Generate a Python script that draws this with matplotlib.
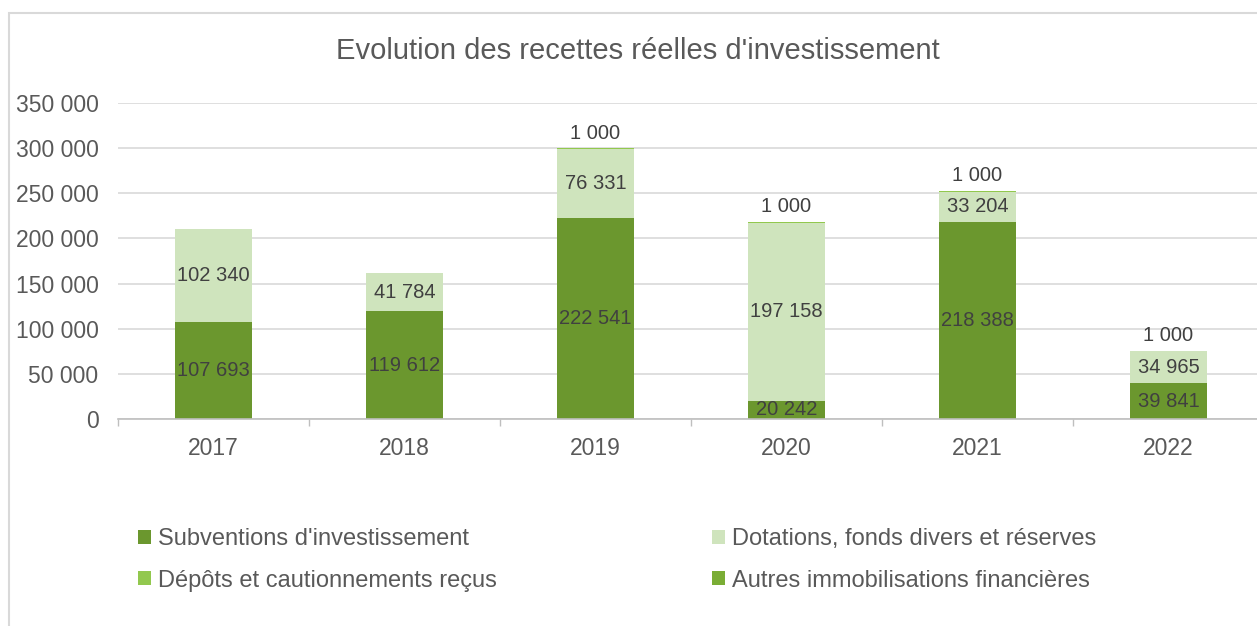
import matplotlib
matplotlib.use("Agg")
import matplotlib.pyplot as plt
import numpy as np
from matplotlib.patches import Rectangle, Patch

years = ["2017", "2018", "2019", "2020", "2021", "2022"]
subventions = [107693, 119612, 222541, 20242, 218388, 39841]
dotations = [102340, 41784, 76331, 197158, 33204, 34965]
depots = [0, 0, 1000, 1000, 1000, 1000]
autres = [0, 0, 0, 0, 0, 0]

names = ["Subventions d'investissement", "Dotations, fonds divers et réserves",
         "Dépôts et cautionnements reçus", "Autres immobilisations financières"]
colors = ["#6b972e", "#cfe4bd", "#92c84e", "#7aad35"]

plt.rcParams['font.family'] = ['Liberation Sans', 'DejaVu Sans']
txt = "#595959"
lab = "#404040"

def fmt(v):
    return f"{int(round(v)):,}".replace(",", " ")

fig = plt.figure(figsize=(12.57, 6.26), dpi=100)
fig.patches.append(Rectangle((9/1257, -0.1), 1.2, 1 - 13/626 + 0.1, transform=fig.transFigure,
                             fill=False, edgecolor="#d9d9d9", linewidth=1.5, zorder=0))

ax = fig.add_axes([118/1257, 1 - 419/626, 1146/1257, 316/626])
x = np.arange(len(years))
w = 0.40
series = [subventions, dotations, depots, autres]
bottom = np.zeros(len(years))
for s, c in zip(series, colors):
    ax.bar(x, s, w, bottom=bottom, color=c, zorder=3)
    bottom += np.array(s)

lfs = 14.5
for i in range(len(years)):
    v1 = subventions[i]
    ax.text(x[i], v1 / 2, fmt(v1), ha="center", va="center", fontsize=lfs, color=lab, zorder=4)
    v2 = dotations[i]
    ax.text(x[i], v1 + v2 / 2, fmt(v2), ha="center", va="center", fontsize=lfs, color=lab, zorder=4)
    if depots[i] > 0:
        top = v1 + v2 + depots[i]
        ax.annotate(fmt(depots[i]), (x[i], top), xytext=(0, 4), textcoords="offset points",
                    ha="center", va="bottom", fontsize=lfs, color=lab, zorder=4)

ax.set_xlim(-0.5, len(years) - 0.5)
ax.set_ylim(0, 350000)
yt = np.arange(0, 350001, 50000)
ax.set_yticks(yt)
ax.set_yticklabels([fmt(v) for v in yt])
ax.set_xticks(x)
ax.set_xticklabels(years)
ax.set_xticks(np.arange(-0.5, len(years), 1), minor=True)
ax.tick_params(axis="x", which="major", length=0, pad=13, labelsize=16.5, labelcolor=txt)
ax.tick_params(axis="x", which="minor", length=5, color="#bfbfbf", width=1)
ax.tick_params(axis="y", length=0, pad=14, labelsize=16.5, labelcolor=txt)
ax.grid(axis="y", color="#d9d9d9", linewidth=1.2, zorder=0)
ax.set_axisbelow(True)
for sp in ["top", "right", "left"]:
    ax.spines[sp].set_visible(False)
ax.spines["bottom"].set_color("#bfbfbf")
ax.spines["bottom"].set_linewidth(1.2)
ax.spines["bottom"].set_zorder(5)

fig.text(638/1257, 1 - 51/626, "Evolution des recettes réelles d'investissement",
         ha="center", va="center", fontsize=21, color=txt)

h = [Patch(facecolor=c) for c in colors]
leg_kw = dict(frameon=False, fontsize=17, labelcolor=txt, handlelength=0.53, handleheight=0.53,
              handletextpad=0.3, labelspacing=0.83, borderaxespad=0, borderpad=0)
fig.legend([h[0], h[2]], [names[0], names[2]], loc="upper left",
           bbox_to_anchor=(138/1257, 1 - 528/626), **leg_kw)
fig.legend([h[1], h[3]], [names[1], names[3]], loc="upper left",
           bbox_to_anchor=(712/1257, 1 - 528/626), **leg_kw)

fig.savefig("out.png", dpi=100)
